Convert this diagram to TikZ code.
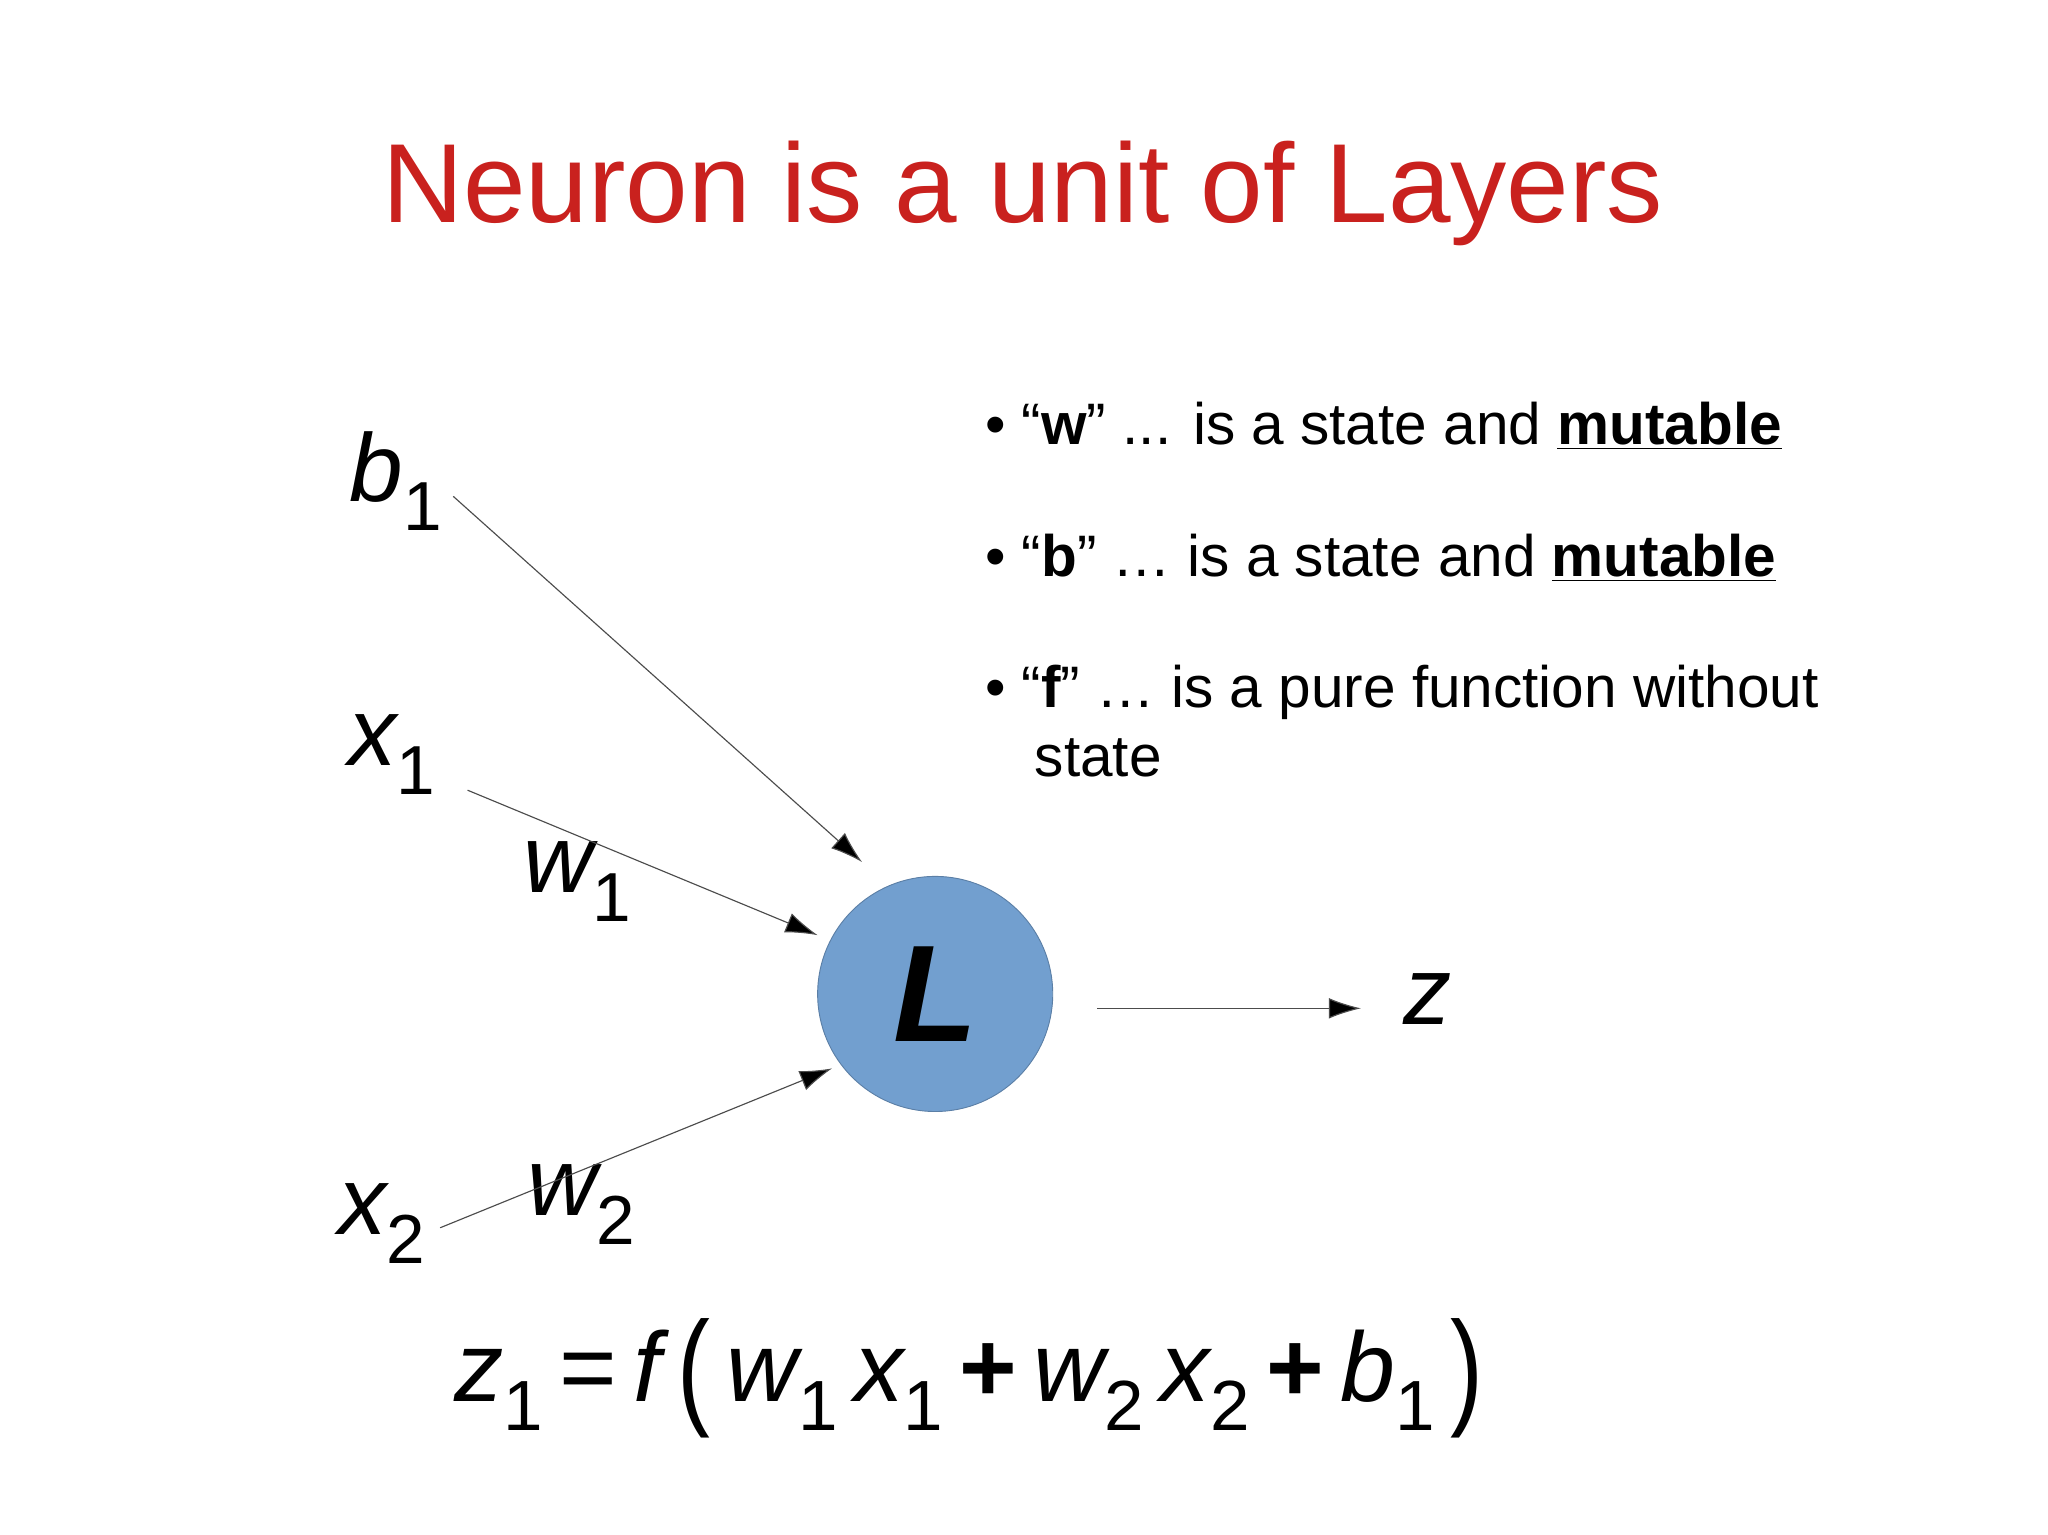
\documentclass[tikz,border=0pt]{standalone}
\usepackage{fontspec}
\setmainfont{Liberation Sans}
\usetikzlibrary{arrows.meta}
\definecolor{titlered}{HTML}{C9211E}
\definecolor{nodeblue}{HTML}{729FCF}
\newcommand{\sbx}[1]{\raisebox{-0.3em}{\fontsize{0.72em}{0.72em}\selectfont\upshape\mdseries #1}}
\newcommand{\iv}[2]{{\itshape #1}\sbx{#2}}
\tikzset{
 lab/.style={font=\fontsize{42}{46}\selectfont},
 bul/.style={font=\fontsize{25.5}{31}\selectfont, anchor=west},
 con/.style={draw=black!70, line width=0.5pt, -{Latex[length=14pt,width=9pt,fill=black]}}
}
\begin{document}
\begin{tikzpicture}[x=0.02cm,y=-0.02cm]
\useasboundingbox (0,0) rectangle (1568,1175);
\node[font=\fontsize{49}{56}\selectfont, text=titlered] (title) at (783,148) {Neuron is a unit of Layers};
\node[bul] (bw) at (748,326) {\textbullet\ “\textbf{w}” ... is a state and \textbf{\underline{mutable}}};
\node[bul] (bb) at (748,427) {\textbullet\ “\textbf{b}” … is a state and \textbf{\underline{mutable}}};
\node[bul, align=left, anchor=north west] (bf) at (748,503) {\textbullet\ “\textbf{f}” … is a pure function without\\[-1pt]\hspace{0.85em}state};
\node[circle, fill=nodeblue, draw=nodeblue!80!black, line width=0.4pt, minimum size=180*0.02cm, inner sep=0pt, font=\fontsize{60}{60}\selectfont\itshape\bfseries] (L) at (716,761) {L};
\node[lab] (b1) at (303,368) {\iv{b}{1}};
\node[lab] (x1) at (300,578) {\iv{x}{1}};
\node[lab] (w1) at (442,675) {\iv{w}{1}};
\node[lab] (x2) at (292,937) {\iv{x}{2}};
\node[lab] (w2) at (445,922) {\iv{w}{2}};
\node[lab] (z) at (1093,765) {{\itshape z}};
\coordinate (b1e) at (347,380);
\coordinate (x1e) at (358,605);
\coordinate (x2e) at (337,940);
\coordinate (oute) at (840,772);
\coordinate (b1t) at (660,660);
\coordinate (x1t) at (626,716);
\coordinate (x2t) at (637,818);
\coordinate (zt) at (1042,772);
\draw[con] (b1e) -- (b1t);
\draw[con] (x1e) -- (x1t);
\draw[con] (x2e) -- (x2t);
\draw[con] (oute) -- (zt);
\node[font=\fontsize{43}{48}\selectfont] (eq) at (742,1055) {\iv{z}{1}\,=\,{\itshape f}\,\raisebox{-0.1em}{\scalebox{1}[1.3]{(}}\,\iv{w}{1}\,\iv{x}{1}\,\textbf{+}\,\iv{w}{2}\,\iv{x}{2}\,\textbf{+}\,\iv{b}{1}\,\raisebox{-0.1em}{\scalebox{1}[1.3]{)}}};
\end{tikzpicture}
\end{document}
